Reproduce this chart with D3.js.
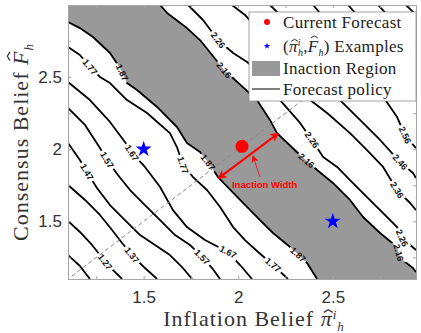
<!DOCTYPE html>
<html>
<head>
<meta charset="utf-8">
<script src="https://cdn.jsdelivr.net/npm/d3@7"></script>
<style>
  body { margin: 0; background: #fff; }
  svg { display: block; }
</style>
</head>
<body>
<svg id="chart" width="421" height="333"></svg>
<script>
// Forecast policy contours: [inflation belief, consensus belief] points for each level
const policy117 = [[1.100,1.266],[1.163,1.190],[1.216,1.100]];
const policy127 = [[1.100,1.502],[1.163,1.426],[1.227,1.336],[1.269,1.266],[1.296,1.218],[1.338,1.162],[1.386,1.100]];
const policy137 = [[1.100,1.752],[1.190,1.648],[1.269,1.544],[1.333,1.440],[1.386,1.350],[1.438,1.266],[1.507,1.176],[1.571,1.100]];
const policy147 = [[1.100,2.043],[1.163,1.925],[1.200,1.842],[1.253,1.731],[1.322,1.613],[1.401,1.509],[1.481,1.405],[1.560,1.336],[1.639,1.266],[1.703,1.183],[1.756,1.100]];
const policy157 = [[1.100,2.286],[1.190,2.168],[1.269,2.008],[1.306,1.925],[1.364,1.821],[1.428,1.717],[1.507,1.613],[1.587,1.509],[1.666,1.405],[1.745,1.336],[1.809,1.252],[1.862,1.176],[1.904,1.100]];
const policy167 = [[1.100,2.466],[1.216,2.341],[1.322,2.189],[1.401,2.050],[1.438,1.974],[1.507,1.877],[1.587,1.738],[1.655,1.578],[1.729,1.460],[1.824,1.370],[1.946,1.287],[2.010,1.197],[2.073,1.100]];
const policy177 = [[1.100,2.709],[1.163,2.653],[1.216,2.570],[1.269,2.501],[1.322,2.459],[1.412,2.341],[1.518,2.251],[1.639,2.112],[1.676,2.015],[1.708,1.890],[1.761,1.807],[1.835,1.717],[1.904,1.599],[1.973,1.460],[2.036,1.370],[2.105,1.287],[2.184,1.197],[2.263,1.100]];
const policy187 = [[1.100,2.882],[1.163,2.840],[1.232,2.778],[1.322,2.667],[1.375,2.563],[1.412,2.459],[1.465,2.411],[1.571,2.293],[1.676,2.154],[1.729,2.043],[1.798,1.981],[1.851,1.890],[1.893,1.807],[2.010,1.648],[2.115,1.509],[2.184,1.419],[2.274,1.322],[2.364,1.211],[2.417,1.100]];
const policy216 = [[1.587,3.000],[1.624,2.945],[1.729,2.840],[1.798,2.757],[1.862,2.653],[1.925,2.549],[2.025,2.431],[2.099,2.341],[2.168,2.203],[2.205,2.112],[2.327,1.960],[2.417,1.856],[2.501,1.766],[2.591,1.648],[2.660,1.530],[2.750,1.419],[2.840,1.322],[2.856,1.245],[2.924,1.176],[2.940,1.149]];
const policy226 = [[1.735,3.000],[1.814,2.896],[1.893,2.757],[1.973,2.667],[2.047,2.605],[2.126,2.515],[2.221,2.341],[2.327,2.182],[2.390,2.064],[2.449,1.946],[2.523,1.877],[2.591,1.786],[2.681,1.668],[2.766,1.557],[2.840,1.460],[2.866,1.384],[2.940,1.301]];
const policy236 = [[1.967,3.000],[2.036,2.931],[2.105,2.827],[2.168,2.702],[2.248,2.549],[2.327,2.411],[2.380,2.341],[2.470,2.251],[2.591,2.112],[2.681,1.994],[2.766,1.877],[2.840,1.717],[2.909,1.627],[2.940,1.578]];
const policy246 = [[2.168,3.000],[2.248,2.896],[2.327,2.723],[2.433,2.480],[2.538,2.341],[2.644,2.203],[2.750,2.064],[2.856,1.911],[2.924,1.835],[2.940,1.800]];
const policy256 = [[2.396,3.000],[2.486,2.861],[2.591,2.653],[2.724,2.445],[2.840,2.223],[2.882,2.098],[2.940,2.008]];
const policy266 = [[2.581,3.000],[2.697,2.827],[2.829,2.619],[2.940,2.445]];
const policy276 = [[2.739,3.000],[2.856,2.840],[2.940,2.723]];
const policy286 = [[2.887,3.000],[2.940,2.931]];

const policyLevels = [1.17, 1.27, 1.37, 1.47, 1.57, 1.67, 1.77, 1.87, 2.16, 2.26, 2.36, 2.46, 2.56, 2.66, 2.76, 2.86];
const policyLines  = [policy117, policy127, policy137, policy147, policy157, policy167, policy177, policy187,
                      policy216, policy226, policy236, policy246, policy256, policy266, policy276, policy286];

// Contour labels: [level, inflation belief, consensus belief]
const contourLabels = [
  [1.77, 1.216, 2.570], [1.87, 1.359, 2.515], [2.26, 1.893, 2.757], [2.16, 1.914, 2.535],
  [1.47, 1.200, 1.842], [1.57, 1.306, 1.925], [1.67, 1.438, 1.974], [1.77, 1.708, 1.890], [1.87, 1.835, 1.904],
  [1.27, 1.296, 1.218], [1.37, 1.438, 1.266], [1.57, 1.809, 1.252], [1.67, 1.946, 1.287],
  [1.77, 2.184, 1.197], [1.87, 2.290, 1.232],
  [2.26, 2.390, 2.064], [2.16, 2.364, 1.925], [2.56, 2.882, 2.098], [2.46, 2.856, 1.911],
  [2.36, 2.840, 1.717], [2.26, 2.866, 1.384], [2.16, 2.840, 1.280]
];

const currentForecast = [2.02, 2.02];
const examplePoints = [[1.5, 2.0], [2.5, 1.5]];
const diagonalRange = [1.12, 2.6];
const widthArrow = [[1.895, 1.798], [2.212, 2.110]];
const widthPointer = [[2.115, 1.807], [2.078, 1.953]];
const widthLabel = [1.967, 1.731];

const xDomain = [1.1, 2.94];
const yDomain = [1.1, 3.0];
const xTickValues = [1.25, 1.5, 1.75, 2, 2.25, 2.5, 2.75];
const yTickValues = [1.25, 1.5, 1.75, 2, 2.25, 2.5, 2.75];
const labeledTicks = [1.5, 2, 2.5];

const plot = { left: 68, right: 416, top: 5, bottom: 279 };
const svg = d3.select("#chart");

const x = d3.scaleLinear().domain(xDomain).range([plot.left, plot.right]);
const y = d3.scaleLinear().domain(yDomain).range([plot.bottom, plot.top]);
const line = d3.line().x(d => x(d[0])).y(d => y(d[1]));

const defs = svg.append("defs");
defs.append("clipPath").attr("id", "plotClip").append("rect")
  .attr("x", plot.left).attr("y", plot.top)
  .attr("width", plot.right - plot.left).attr("height", plot.bottom - plot.top);

// Inaction region between the 1.87 and 2.16 policy contours
const region = [[xDomain[0], yDomain[1]], ...policy216, [xDomain[1], yDomain[0]], ...policy187.slice().reverse()];
svg.append("path")
  .attr("d", line(region) + "Z")
  .attr("fill", "#999999")
  .attr("clip-path", "url(#plotClip)");

// Contour labels (measured first so the lines can be broken around them)
const labelGroup = svg.append("g").attr("class", "contour-labels");
const labelInfo = contourLabels.map(([lev, px, py]) => {
  const pts = policyLines[policyLevels.indexOf(lev)].map(p => [x(p[0]), y(p[1])]);
  const tx = x(px), ty = y(py);
  let best = null;
  for (let i = 0; i < pts.length - 1; i++) {
    const [ax, ay] = pts[i], [bx, by] = pts[i + 1];
    const dx = bx - ax, dy = by - ay;
    const t = Math.max(0, Math.min(1, ((tx - ax) * dx + (ty - ay) * dy) / (dx * dx + dy * dy)));
    const qx = ax + t * dx, qy = ay + t * dy;
    const dist = Math.hypot(qx - tx, qy - ty);
    if (!best || dist < best.dist) best = { dist, qx, qy, ang: Math.atan2(dy, dx) * 180 / Math.PI };
  }
  let ang = best.ang;
  if (ang > 90) ang -= 180;
  if (ang < -90) ang += 180;
  return { lev, cx: best.qx, cy: best.qy, ang };
});

const labelTexts = labelGroup.selectAll("text").data(labelInfo).join("text")
  .attr("transform", d => `translate(${d.cx},${d.cy}) rotate(${d.ang})`)
  .attr("text-anchor", "middle")
  .attr("dy", "0.35em")
  .attr("font-family", "'Liberation Sans', Arial, sans-serif")
  .attr("font-weight", "bold")
  .attr("font-size", 9)
  .attr("fill", "#111")
  .text(d => d.lev.toFixed(2));

const mask = defs.append("mask").attr("id", "labelGaps")
  .attr("maskUnits", "userSpaceOnUse").attr("x", 0).attr("y", 0).attr("width", 421).attr("height", 333);
mask.append("rect").attr("width", 421).attr("height", 333).attr("fill", "#fff");
labelTexts.each(function (d) {
  const w = this.getComputedTextLength() + 4;
  mask.append("rect")
    .attr("x", -w / 2).attr("y", -5).attr("width", w).attr("height", 10)
    .attr("transform", `translate(${d.cx},${d.cy}) rotate(${d.ang})`)
    .attr("fill", "#000");
});

// Forecast policy contours
const contourGroup = svg.insert("g", ".contour-labels")
  .attr("clip-path", "url(#plotClip)")
  .append("g").attr("mask", "url(#labelGaps)");
contourGroup.selectAll("path").data(policyLines).join("path")
  .attr("d", line)
  .attr("fill", "none")
  .attr("stroke", "#000")
  .attr("stroke-width", 1.8)
  .attr("stroke-linejoin", "round");

// 45-degree reference line
svg.insert("line", ".contour-labels")
  .attr("x1", x(diagonalRange[0])).attr("y1", y(diagonalRange[0]))
  .attr("x2", x(diagonalRange[1])).attr("y2", y(diagonalRange[1]))
  .attr("stroke", "#8a8a8a").attr("stroke-width", 1).attr("stroke-dasharray", "4,3")
  .attr("clip-path", "url(#plotClip)");

// Axes box and ticks
const axisColor = "#a6a6a6";
const tickFont = "'Liberation Sans', Arial, Helvetica, sans-serif";
const fmt = v => labeledTicks.includes(v) ? d3.format("")(v) : "";

const gx = svg.append("g").attr("transform", `translate(0,${plot.bottom})`)
  .call(d3.axisBottom(x).tickValues(xTickValues).tickFormat(fmt).tickSize(-3).tickPadding(12));
const gy = svg.append("g").attr("transform", `translate(${plot.left},0)`)
  .call(d3.axisLeft(y).tickValues(yTickValues).tickFormat(fmt).tickSize(-3).tickPadding(6));
const gxt = svg.append("g").attr("transform", `translate(0,${plot.top})`)
  .call(d3.axisTop(x).tickValues(xTickValues).tickFormat("").tickSize(-3));
const gyr = svg.append("g").attr("transform", `translate(${plot.right},0)`)
  .call(d3.axisRight(y).tickValues(yTickValues).tickFormat("").tickSize(-3));
[gx, gy, gxt, gyr].forEach(g => {
  g.select(".domain").attr("stroke", axisColor);
  g.selectAll(".tick line").attr("stroke", axisColor);
  g.selectAll(".tick text").attr("font-family", tickFont).attr("font-size", 17).attr("fill", "#333");
});

// Math-style text: a hat is drawn over the given glyph
const serif = "'Liberation Serif', 'Times New Roman', serif";
function addHat(group, textSel, ch, size, rise) {
  const node = textSel.node();
  const idx = node.textContent.indexOf(ch);
  const a = node.getStartPositionOfChar(idx), b = node.getEndPositionOfChar(idx);
  const cx = (a.x + b.x) / 2 + size * 0.07;
  const base = a.y - size * rise;
  const hw = size * 0.2, hh = size * 0.12;
  group.append("path")
    .attr("d", `M${cx - hw},${base} L${cx},${base - hh} L${cx + hw},${base}`)
    .attr("fill", "none").attr("stroke", textSel.attr("fill")).attr("stroke-width", size * 0.055)
    .attr("stroke-linejoin", "miter");
}

// Axis titles
const xg = svg.append("g");
const xt = xg.append("text").attr("x", 254).attr("y", 326).attr("text-anchor", "middle")
  .attr("font-family", serif).attr("font-size", 22).attr("letter-spacing", 1).attr("fill", "#333");
xt.append("tspan").text("Inflation Belief ");
xt.append("tspan").attr("font-style", "italic").text("\u03C0");
xt.append("tspan").attr("font-size", 13).attr("font-style", "italic").attr("dy", -7).text("i");
xt.append("tspan").attr("font-size", 13).attr("font-style", "italic").attr("dx", 0).attr("dy", 12).text("h");
addHat(xg, xt, "\u03C0", 22, 0.62);

const yg = svg.append("g").attr("transform", "translate(28,142) rotate(-90)");
const yt = yg.append("text").attr("text-anchor", "middle")
  .attr("font-family", serif).attr("font-size", 22).attr("letter-spacing", 1).attr("fill", "#333");
yt.append("tspan").text("Consensus Belief ");
yt.append("tspan").attr("font-style", "italic").text("F");
yt.append("tspan").attr("font-size", 13).attr("font-style", "italic").attr("dy", 5).text("h");
addHat(yg, yt, "F", 22, 0.82);

// Inaction width annotation
const red = "#ff0000";
defs.append("marker").attr("id", "headBig").attr("viewBox", "0 0 10 10")
  .attr("refX", 9).attr("refY", 5).attr("markerWidth", 4.5).attr("markerHeight", 4.5)
  .attr("markerUnits", "strokeWidth").attr("orient", "auto-start-reverse")
  .append("path").attr("d", "M0,0 L10,5 L0,10 L3,5 Z").attr("fill", red);
defs.append("marker").attr("id", "headSmall").attr("viewBox", "0 0 10 10")
  .attr("refX", 9).attr("refY", 5).attr("markerWidth", 9).attr("markerHeight", 9)
  .attr("markerUnits", "strokeWidth").attr("orient", "auto")
  .append("path").attr("d", "M0,0 L10,5 L0,10 L3,5 Z").attr("fill", red);

svg.append("line")
  .attr("x1", x(widthArrow[0][0])).attr("y1", y(widthArrow[0][1]))
  .attr("x2", x(widthArrow[1][0])).attr("y2", y(widthArrow[1][1]))
  .attr("stroke", red).attr("stroke-width", 2)
  .attr("marker-start", "url(#headBig)").attr("marker-end", "url(#headBig)");
svg.append("line")
  .attr("x1", x(widthPointer[0][0])).attr("y1", y(widthPointer[0][1]))
  .attr("x2", x(widthPointer[1][0])).attr("y2", y(widthPointer[1][1]))
  .attr("stroke", red).attr("stroke-width", 0.8)
  .attr("marker-end", "url(#headSmall)");
svg.append("text").attr("x", x(widthLabel[0])).attr("y", y(widthLabel[1]))
  .attr("font-family", tickFont).attr("font-weight", "bold").attr("font-size", 9.5)
  .attr("fill", red).text("Inaction Width");

// Markers
svg.append("circle").attr("cx", x(currentForecast[0])).attr("cy", y(currentForecast[1]))
  .attr("r", 6.5).attr("fill", red);
svg.selectAll(".example").data(examplePoints).join("path").attr("class", "example")
  .attr("transform", d => `translate(${x(d[0])},${y(d[1])})`)
  .attr("d", d3.symbol(d3.symbolStar, 80))
  .attr("fill", "#0000ff");

// Legend
const lg = svg.append("g");
lg.append("rect").attr("x", 249).attr("y", 12).attr("width", 167).attr("height", 89)
  .attr("fill", "#fff").attr("stroke", "#8c8c8c").attr("stroke-width", 0.8);
const rowY = [22, 46, 68, 89];
const textX = 283;
lg.append("circle").attr("cx", 267).attr("cy", rowY[0]).attr("r", 3).attr("fill", red);
lg.append("path").attr("transform", `translate(267,${rowY[1]})`).attr("d", d3.symbol(d3.symbolStar, 14)).attr("fill", "#0000ff");
lg.append("rect").attr("x", 252).attr("y", rowY[2] - 7).attr("width", 28).attr("height", 15).attr("fill", "#999999");
lg.append("line").attr("x1", 252).attr("x2", 280).attr("y1", rowY[3]).attr("y2", rowY[3]).attr("stroke", "#000").attr("stroke-width", 1);

const legendText = (row) => lg.append("text").attr("x", textX).attr("y", rowY[row] + 5.5)
  .attr("font-family", serif).attr("font-size", 17).attr("letter-spacing", 0.3).attr("fill", "#222");
legendText(0).text("Current Forecast");
const ex = legendText(1);
ex.append("tspan").text("(");
ex.append("tspan").attr("font-style", "italic").text("\u03C0");
ex.append("tspan").attr("font-size", 10).attr("font-style", "italic").attr("dy", -6).text("i");
ex.append("tspan").attr("font-size", 10).attr("font-style", "italic").attr("dx", -3).attr("dy", 10).text("h");
ex.append("tspan").attr("dy", -4).text(",");
ex.append("tspan").attr("font-style", "italic").text("F");
ex.append("tspan").attr("font-size", 10).attr("font-style", "italic").attr("dy", 4).text("h");
ex.append("tspan").attr("dy", -4).text(") Examples");
addHat(lg, ex, "\u03C0", 17, 0.6);
addHat(lg, ex, "F", 17, 0.8);
legendText(2).text("Inaction Region");
legendText(3).text("Forecast policy");
</script>
</body>
</html>
